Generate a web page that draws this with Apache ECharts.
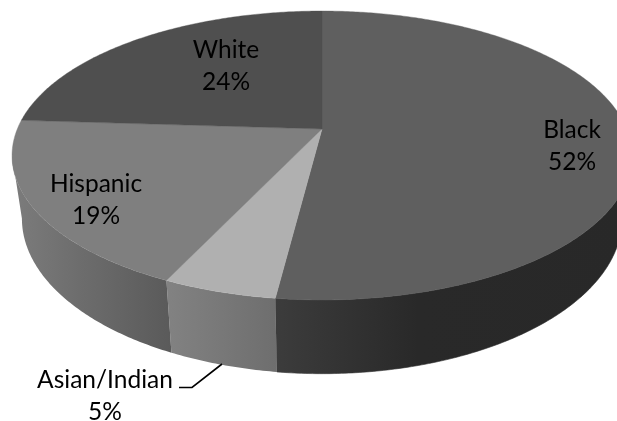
<!DOCTYPE html>
<html><head><meta charset="utf-8">
<style>html,body{margin:0;padding:0;background:#fff}#c{width:617px;height:421px}</style>
<script src="https://cdn.jsdelivr.net/npm/echarts@6/dist/echarts.min.js"></script>
</head><body><div id="c"></div>
<script>
const categories = ['Black', 'Asian/Indian', 'Hispanic', 'White'];
const values = [52, 5, 19, 24];
const percentLabels = ['52%', '5%', '19%', '24%'];
const topColors = ['#5f5f5f', '#b0b0b0', '#7f7f7f', '#4f4f4f'];
const wallStops = [
  [[0, '#3c3c3c'], [0.4, '#292929'], [1, '#282828']],
  [[0, '#828282'], [1, '#6e6e6e']],
  [[0, '#7c7c7c'], [0.45, '#6c6c6c'], [1, '#5a5a5a']],
  [[0, '#4f4f4f'], [1, '#4f4f4f']]
];
const labelCenters = [[572, 146], [105, 396], [96, 200], [226, 66]];

const PERSP = 0.1834;
const TOP = {x: 322, y: 129, a: 304.7, b: 139.6};
const BASE = {x: 322, y: 190, a: 295, b: 150};
const total = values.reduce((s, v) => s + v, 0);
const bounds = [];
values.reduce((acc, v, i) => { bounds[i] = [acc, acc + v]; return acc + v; }, 0);
const rad = t => t / total * Math.PI * 2;
const project = (disc, th) => {
  const u = Math.sin(th), v = Math.cos(th), d = 1 + PERSP * v;
  return [disc.x + disc.a * u / d, disc.y - disc.b * v / d];
};
const arc = (disc, a0, a1) => {
  const n = Math.max(2, Math.ceil(Math.abs(a1 - a0) / 0.01)), out = [];
  for (let i = 0; i <= n; i++) out.push(project(disc, a0 + (a1 - a0) * i / n));
  return out;
};
const tangent = Math.acos(-PERSP);
const frontFrom = tangent, frontTo = Math.PI * 2 - tangent;

function wallItem(params) {
  const i = params.dataIndex;
  const a0 = Math.max(rad(bounds[i][0]), frontFrom), a1 = Math.min(rad(bounds[i][1]), frontTo);
  if (a1 <= a0) return {type: 'group', children: []};
  const points = arc(TOP, a0, a1).concat(arc(BASE, a1, a0));
  const fill = {type: 'linear', x: 0, y: 0, x2: 1, y2: 0,
    colorStops: wallStops[i].map(s => ({offset: s[0], color: s[1]}))};
  return {type: 'polygon', shape: {points}, style: {
    fill, stroke: i === 0 ? fill : 'none', lineWidth: i === 0 ? 0.6 : 0}};
}
function topItem(params) {
  const i = params.dataIndex;
  const points = [[TOP.x, TOP.y]].concat(arc(TOP, rad(bounds[i][0]), rad(bounds[i][1])));
  return {type: 'polygon', shape: {points}, style: {fill: topColors[i], stroke: topColors[i], lineWidth: 0.4}};
}
function labelItem(params) {
  const i = params.dataIndex, c = labelCenters[i];
  const children = [{type: 'text', style: {
    x: c[0], y: c[1], text: categories[i] + '\n' + percentLabels[i],
    fill: '#000', font: '24.5px Lato', lineHeight: 32, align: 'center', verticalAlign: 'middle'}}];
  if (categories[i] === 'Asian/Indian') {
    children.push({type: 'polyline', shape: {points: [[179, 387.5], [192, 387.5], [222, 364]]},
      style: {stroke: '#000', lineWidth: 1.6, fill: 'none'}});
  }
  return {type: 'group', children};
}
const rows = categories.map((c, i) => ({name: c, value: values[i]}));
const chart = echarts.init(document.getElementById('c'), null, {renderer: 'canvas'});
chart.setOption({
  animation: false,
  backgroundColor: '#fff',
  series: [
    {type: 'custom', coordinateSystem: 'none', renderItem: wallItem, data: rows, silent: true, clip: false},
    {type: 'custom', coordinateSystem: 'none', renderItem: topItem, data: rows, silent: true, clip: false},
    {type: 'custom', coordinateSystem: 'none', renderItem: labelItem, data: rows, silent: true, clip: false}
  ]
});
</script></body></html>
